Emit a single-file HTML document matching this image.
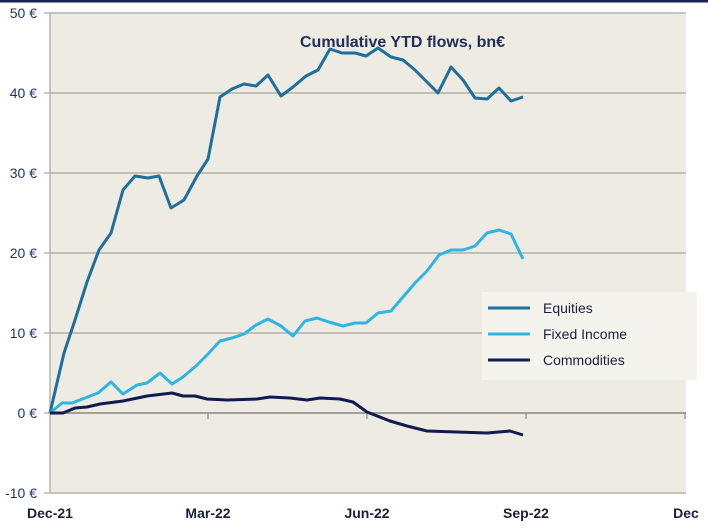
<!DOCTYPE html>
<html><head><meta charset="utf-8"><style>
body{margin:0;background:#fff;}
svg{display:block;font-family:"Liberation Sans",sans-serif;}
</style></head><body>
<svg width="708" height="528" viewBox="0 0 708 528">
<rect x="0" y="0" width="708" height="2.5" fill="#1a2450"/>
<rect x="50" y="13" width="636" height="480" fill="#EEEBE2"/>
<g stroke="#a8a59c" stroke-width="1.2">
<line x1="50" y1="13" x2="686" y2="13"/>
<line x1="50" y1="93" x2="686" y2="93"/>
<line x1="50" y1="173" x2="686" y2="173"/>
<line x1="50" y1="253" x2="686" y2="253"/>
<line x1="50" y1="333" x2="686" y2="333"/>
<line x1="50" y1="493" x2="686" y2="493"/>
<line x1="50" y1="13" x2="50" y2="493"/>
<line x1="44" y1="13" x2="50" y2="13"/><line x1="44" y1="93" x2="50" y2="93"/><line x1="44" y1="173" x2="50" y2="173"/><line x1="44" y1="253" x2="50" y2="253"/><line x1="44" y1="333" x2="50" y2="333"/><line x1="44" y1="413" x2="50" y2="413"/><line x1="44" y1="493" x2="50" y2="493"/>
</g>
<line x1="50" y1="413" x2="686" y2="413" stroke="#8a877f" stroke-width="1.5"/>
<g stroke="#8a877f" stroke-width="1.2"><line x1="208" y1="413" x2="208" y2="419"/><line x1="367" y1="413" x2="367" y2="419"/><line x1="526" y1="413" x2="526" y2="419"/><line x1="685" y1="413" x2="685" y2="419"/></g>
<rect x="482" y="292" width="215" height="88" fill="#F5F3EE"/>
<text x="300" y="47" font-size="16" font-weight="bold" fill="#1F2F5A">Cumulative YTD flows, bn€</text>
<g font-size="14" fill="#1F3864" text-anchor="end">
<text x="37" y="18">50 €</text><text x="37" y="98">40 €</text><text x="37" y="178">30 €</text><text x="37" y="258">20 €</text><text x="37" y="338">10 €</text><text x="37" y="418">0 €</text><text x="37" y="498">-10 €</text>
</g>
<g font-size="14" font-weight="bold" fill="#1a1f3a" text-anchor="middle">
<text x="50" y="518">Dec-21</text><text x="208" y="518">Mar-22</text><text x="367" y="518">Jun-22</text><text x="526" y="518">Sep-22</text><text x="686" y="518">Dec</text>
</g>
<g fill="none" stroke-width="3" stroke-linejoin="round">
<polyline stroke="#1E6E9E" points="50,413 64,353 75,320 87,282 99,250 111,233 123,190 135,176 148,178 159,176 171,208 184,200 197,176 208,159 220,97 232,89 244,84 256,86 268,75 281,96 293,87 306,76 318,70 330,49 342,53 355,53 366,56 378,48 391,57 403,60 415,70 427,82 438,93 451,67 463,80 475,98 487,99 499,88 511,101 523,97"/>
<polyline stroke="#2EB5E3" points="50,413 62,403 72,403 85,398 98,393 111,382 123,394 137,385 147,383 160,373 172,384 183,377 196,366 208,354 220,341 232,338 244,334 256,325 268,319 281,326 293,336 305,321 317,318 329,322 343,326 355,323 366,323 378,313 391,311 403,297 415,283 427,271 439,255 451,250 463,250 475,246 487,233 499,230 511,234 523,259"/>
<polyline stroke="#111B4F" points="50,413 63,413 75,408 87,407 100,404 123,401 147,396 172,393 183,396 195,396 207,399 227,400 257,399 270,397 290,398 307,400 320,398 340,399 353,402 367,412 390,421 407,426 427,431 457,432 487,433 510,431 523,435"/>
<line x1="488" y1="308" x2="530" y2="308" stroke="#1E6E9E"/>
<line x1="488" y1="334" x2="530" y2="334" stroke="#2EB5E3"/>
<line x1="488" y1="360" x2="530" y2="360" stroke="#111B4F"/>
</g>
<g font-size="14" fill="#1a1f3a">
<text x="543" y="313">Equities</text><text x="543" y="339">Fixed Income</text><text x="543" y="365">Commodities</text>
</g>
</svg>
</body></html>
